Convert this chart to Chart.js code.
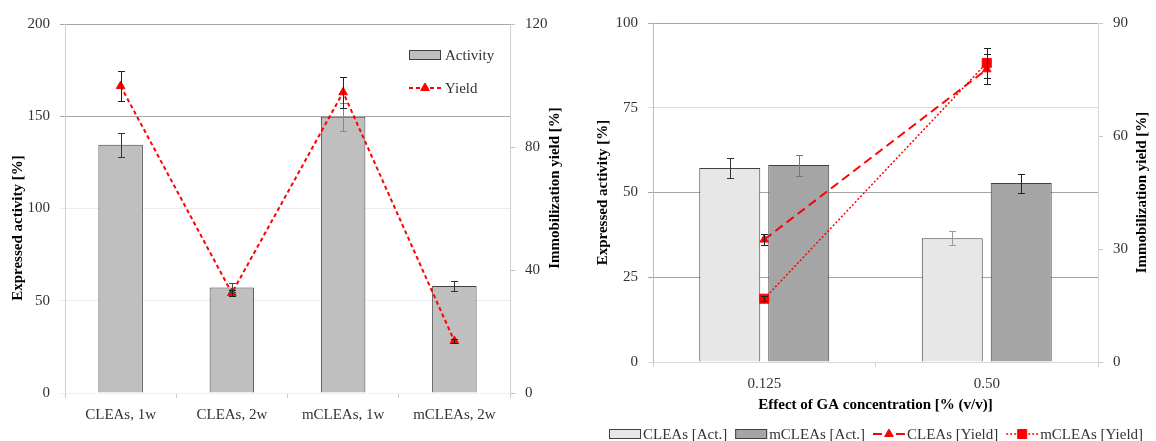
<!DOCTYPE html>
<html>
<head>
<meta charset="utf-8">
<script src="https://cdn.jsdelivr.net/npm/chart.js@4.4.1/dist/chart.umd.min.js"></script>
<style>
  body { margin: 0; background: #fff; }
  canvas { position: absolute; top: 0; }
  #ch-time { left: 0; }
  #ch-ga { left: 580px; }
</style>
</head>
<body>
<canvas id="ch-time" width="580" height="441"></canvas>
<canvas id="ch-ga" width="576" height="441"></canvas>
<script>
// storage time panel
const storage = ['CLEAs, 1w', 'CLEAs, 2w', 'mCLEAs, 1w', 'mCLEAs, 2w'];
const activity = [134.5, 57.2, 149.7, 58.0];
const activityErr = [6.6, 2.6, 7.6, 2.7];
const yieldPct = [99.8, 32.5, 97.8, 16.9];
const yieldErr = [5.0, 1.0, 5.0, 0.8];

// GA concentration panel
const gaConc = ['0.125', '0.50'];
const cleaAct = [57.2, 36.5];
const cleaActErr = [3.0, 2.0];
const mcleaAct = [58.1, 52.8];
const mcleaActErr = [3.1, 2.8];
const cleaYield = [32.5, 77.7];
const cleaYieldErr = [1.5, 4.0];
const mcleaYield = [16.8, 79.4];
const mcleaYieldErr = [0.6, 3.9];

const SERIF = "'Liberation Serif', 'Times New Roman', serif";
const tickFont = { family: SERIF, size: 15 };
const titleFont = { family: SERIF, size: 15, weight: 'bold' };
const INK = '#333333';

// vertical error bars, read from dataset.errors
const errorBars = {
  id: 'errorBars',
  afterDatasetsDraw(chart) {
    const ctx = chart.ctx;
    chart.data.datasets.forEach((ds, i) => {
      if (!ds.errors) return;
      const meta = chart.getDatasetMeta(i);
      const scale = chart.scales[meta.yAxisID];
      meta.data.forEach((el, j) => {
        const v = ds.data[j], e = ds.errors[j];
        const top = Math.round(scale.getPixelForValue(v + e)) + 0.5;
        const bot = Math.round(scale.getPixelForValue(v - e)) + 0.5;
        const x = Math.round(el.x) + 0.5;
        ctx.save();
        ctx.strokeStyle = Array.isArray(ds.errorColor) ? ds.errorColor[j] : ds.errorColor;
        ctx.lineWidth = 1;
        ctx.beginPath();
        ctx.moveTo(x, top); ctx.lineTo(x, bot);
        ctx.moveTo(x - 3.5, top); ctx.lineTo(x + 3.5, top);
        ctx.moveTo(x - 3.5, bot); ctx.lineTo(x + 3.5, bot);
        ctx.stroke();
        ctx.restore();
      });
    });
  }
};

function drawIcon(ctx, ds, x, y) {
  ctx.save();
  if (ds.type === 'line') {
    ctx.strokeStyle = ds.borderColor;
    ctx.lineWidth = ds.borderWidth;
    ctx.setLineDash(ds.borderDash || []);
    // dash pattern starts at both outer ends
    ctx.beginPath();
    ctx.moveTo(x, y); ctx.lineTo(x + 16, y);
    ctx.moveTo(x + 32, y); ctx.lineTo(x + 16, y);
    ctx.stroke();
    ctx.setLineDash([]);
    ctx.fillStyle = ds.backgroundColor;
    ctx.lineWidth = 1;
    Chart.helpers.drawPoint(ctx, { pointStyle: ds.pointStyle, radius: ds.pointRadius, borderWidth: 1, rotation: 0 }, x + 16, y);
  } else {
    ctx.fillStyle = ds.backgroundColor;
    ctx.strokeStyle = ds.borderColor;
    ctx.lineWidth = 1;
    ctx.fillRect(x, y - 5, 32, 10);
    ctx.strokeRect(x + 0.5, y - 4.5, 31, 9);
  }
  ctx.restore();
}

// legend drawn at a fixed spot, as a column or a row
const keyBox = {
  id: 'keyBox',
  afterDraw(chart, args, opts) {
    const ctx = chart.ctx;
    let x = opts.x, y = opts.y;
    ctx.save();
    ctx.font = '15px ' + SERIF;
    ctx.textBaseline = 'middle';
    chart.data.datasets.forEach(ds => {
      drawIcon(ctx, ds, x, y);
      ctx.fillStyle = INK;
      ctx.fillText(ds.label, x + opts.textGap, y + 1);
      if (opts.column) y += opts.step;
      else x += opts.textGap + ctx.measureText(ds.label).width + opts.step;
    });
    ctx.restore();
  }
};

// y axis captions, both read bottom to top
const sideTitles = {
  id: 'sideTitles',
  afterDraw(chart, args, opts) {
    const ctx = chart.ctx;
    ctx.save();
    ctx.font = 'bold 15px ' + SERIF;
    ctx.fillStyle = '#000';
    ctx.textAlign = 'center';
    ctx.textBaseline = 'middle';
    opts.items.forEach(t => {
      ctx.save();
      ctx.translate(t.x, t.y);
      ctx.rotate(-Math.PI / 2);
      ctx.fillText(t.text, 0, 0);
      ctx.restore();
    });
    ctx.restore();
  }
};

function yAxis(min, max, step, width, gridColor, borderColor) {
  return {
    min: min, max: max,
    ticks: { stepSize: step, padding: 10, font: tickFont, color: INK },
    grid: { color: gridColor, tickLength: 5 },
    border: { color: borderColor },
    afterFit: s => { s.width = width; }
  };
}

// time panel
const yT = yAxis(0, 200, 50, 65,
  c => (c.tick && c.tick.value >= 150 ? '#a6a6a6' : '#ececec'), '#d0d0d0');
const y2T = yAxis(0, 120, 40, 70, '#bfbfbf', '#d0d0d0');
y2T.position = 'right';
y2T.grid.drawOnChartArea = false;

new Chart(document.getElementById('ch-time'), {
  type: 'bar',
  data: {
    labels: storage,
    datasets: [{
      label: 'Activity',
      data: activity,
      errors: activityErr,
      errorColor: ['#333', '#444', '#888', '#333'],
      backgroundColor: '#bfbfbf',
      borderColor: '#404040',
      borderWidth: 1,
      barPercentage: 0.4,
      categoryPercentage: 1,
      yAxisID: 'y',
      order: 2,
    }, {
      type: 'line',
      label: 'Yield',
      data: yieldPct,
      errors: yieldErr,
      errorColor: '#222',
      borderColor: '#ff0000',
      backgroundColor: '#ff0000',
      borderWidth: 2,
      borderDash: [4, 3],
      pointStyle: 'triangle',
      pointRadius: 5,
      pointBorderWidth: 1,
      fill: false,
      yAxisID: 'y2',
      order: 1,
    }],
  },
  options: {
    responsive: false,
    animation: false,
    layout: { padding: { top: 24, left: 0, right: 0, bottom: 0 } },
    plugins: {
      legend: { display: false },
      tooltip: { enabled: false },
      keyBox: { x: 409, y: 55, column: true, step: 33, textGap: 36 },
      sideTitles: { items: [
        { text: 'Expressed activity [%]', x: 18.5, y: 228 },
        { text: 'Immobilization yield [%]', x: 555, y: 188 },
      ] },
    },
    scales: {
      x: {
        grid: { offset: true, drawOnChartArea: false, tickLength: 5, color: '#c8c8c8' },
        border: { color: '#f0f0f0' },
        ticks: { font: tickFont, color: INK, padding: 8 },
        afterFit: s => { s.height = 48; }
      },
      y: yT,
      y2: y2T,
    },
  },
  plugins: [errorBars, keyBox, sideTitles],
});

// GA concentration panel
const yG = yAxis(0, 100, 25, 73,
  c => (c.tick && (c.tick.value === 75 || c.tick.value === 0) ? '#dcdcdc' : '#a6a6a6'), '#bdbdbd');
const y2G = yAxis(0, 90, 30, 58, '#c8c8c8', '#d9d9d9');
y2G.position = 'right';
y2G.grid.drawOnChartArea = false;

new Chart(document.getElementById('ch-ga'), {
  type: 'bar',
  data: {
    labels: gaConc,
    datasets: [{
      label: 'CLEAs [Act.]',
      data: cleaAct,
      errors: cleaActErr,
      errorColor: ['#333', '#999'],
      backgroundColor: '#e7e7e7',
      borderColor: '#404040',
      borderWidth: 1,
      barPercentage: 0.884,
      categoryPercentage: 0.62,
      yAxisID: 'y',
      order: 2,
    }, {
      label: 'mCLEAs [Act.]',
      data: mcleaAct,
      errors: mcleaActErr,
      errorColor: ['#777', '#222'],
      backgroundColor: '#a5a5a5',
      borderColor: '#404040',
      borderWidth: 1,
      barPercentage: 0.884,
      categoryPercentage: 0.62,
      yAxisID: 'y',
      order: 2,
    }, {
      type: 'line',
      label: 'CLEAs [Yield]',
      data: cleaYield,
      errors: cleaYieldErr,
      errorColor: '#222',
      borderColor: '#ff0000',
      backgroundColor: '#ff0000',
      borderWidth: 2,
      borderDash: [9, 5],
      pointStyle: 'triangle',
      pointRadius: 5,
      pointBorderWidth: 1,
      fill: false,
      yAxisID: 'y2',
      order: 1,
    }, {
      type: 'line',
      label: 'mCLEAs [Yield]',
      data: mcleaYield,
      errors: mcleaYieldErr,
      errorColor: '#222',
      borderColor: '#ff0000',
      backgroundColor: '#ff0000',
      borderWidth: 1.5,
      borderDash: [2, 2],
      pointStyle: 'rect',
      pointRadius: 6.4,
      pointBorderWidth: 1,
      fill: false,
      yAxisID: 'y2',
      order: 0,
    }],
  },
  options: {
    responsive: false,
    animation: false,
    layout: { padding: { top: 23, left: 0, right: 0, bottom: 0 } },
    plugins: {
      legend: { display: false },
      tooltip: { enabled: false },
      keyBox: { x: 29, y: 434, column: false, step: 8, textGap: 34 },
      sideTitles: { items: [
        { text: 'Expressed activity [%]', x: 22.8, y: 192.5 },
        { text: 'Immobilization yield [%]', x: 562, y: 192.5 },
      ] },
    },
    scales: {
      x: {
        grid: { offset: true, drawOnChartArea: false, tickLength: 5, color: '#d0d0d0' },
        border: { color: '#d9d9d9' },
        ticks: { font: tickFont, color: INK, padding: 8 },
        title: { display: true, text: 'Effect of GA concentration [% (v/v)]', font: titleFont, color: '#000', padding: { top: 0, bottom: 27 } },
        afterFit: s => { s.height = 79; }
      },
      y: yG,
      y2: y2G,
    },
  },
  plugins: [errorBars, keyBox, sideTitles],
});
</script>
</body>
</html>
